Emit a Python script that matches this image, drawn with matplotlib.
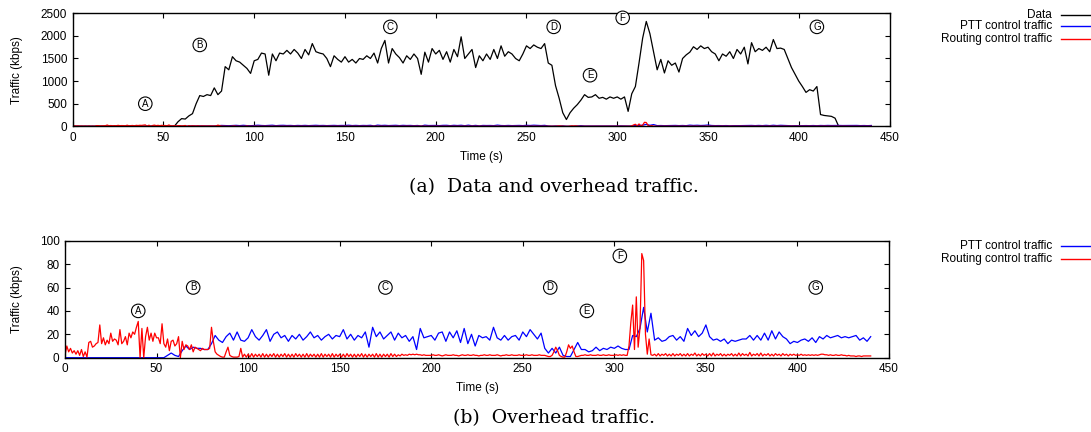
import numpy as np
import matplotlib
matplotlib.use("Agg")
import matplotlib.pyplot as plt

# ---- series (kbps) ----
# Data traffic, sampled every 2 s from t = 0
data_kbps = [
    0, 0, 0, 0, 0, 0, 0, 0, 0, 0,
    0, 0, 0, 0, 0, 0, 0, 0, 0, 0,
    0, 0, 0, 0, 0, 0, 0, 0, 0, 100,
    170, 160, 230, 280, 500, 680, 660, 700, 680, 850,
    700, 780, 1320, 1250, 1540, 1450, 1420, 1350, 1280, 1170,
    1450, 1480, 1620, 1600, 1130, 1600, 1450, 1620, 1600, 1680,
    1600, 1700, 1620, 1500, 1700, 1580, 1830, 1650, 1620, 1600,
    1500, 1320, 1560, 1480, 1420, 1540, 1420, 1480, 1400, 1500,
    1480, 1560, 1500, 1620, 1400, 1720, 1900, 1400, 1720, 1600,
    1520, 1400, 1560, 1480, 1600, 1500, 1150, 1640, 1420, 1720,
    1600, 1680, 1480, 1650, 1420, 1700, 1540, 1980, 1500, 1600,
    1700, 1300, 1560, 1450, 1600, 1480, 1700, 1500, 1780, 1550,
    1650, 1600, 1500, 1450, 1600, 1780, 1720, 1800, 1750, 1720,
    1830, 1400, 1350, 900, 620, 300, 150, 300, 400, 480,
    580, 700, 640, 650, 700, 620, 640, 600, 650, 620,
    650, 600, 650, 330, 720, 880, 1400, 1950, 2320, 2050,
    1650, 1250, 1480, 1180, 1450, 1350, 1400, 1200, 1500, 1580,
    1640, 1760, 1700, 1780, 1720, 1750, 1650, 1600, 1450, 1600,
    1550, 1650, 1500, 1700, 1600, 1750, 1380, 1850, 1650, 1720,
    1680, 1750, 1650, 1920, 1720, 1730, 1700, 1500, 1300, 1150,
    1000, 880, 750, 810, 780, 880, 260, 240, 230, 220,
    180, 0, 0, 0, 0, 0, 0, 0, 0, 0,
    0,
]

# PTT control traffic, sampled every 2 s from t = 0
ptt_kbps = [
    0, 0, 0, 0, 0, 0, 0, 0, 0, 0,
    0, 0, 0, 0, 0, 0, 0, 0, 0, 0,
    0, 0, 0, 0, 0, 0, 0, 0, 2, 4,
    2, 1, 6, 10, 7, 9, 8, 8, 7, 7,
    12, 19, 15, 13, 18, 21, 15, 22, 15, 14,
    17, 24, 18, 15, 19, 24, 14, 20, 22, 17,
    19, 14, 19, 16, 20, 15, 18, 22, 17, 19,
    15, 18, 20, 16, 19, 18, 24, 16, 20, 15,
    19, 17, 22, 9, 26, 18, 22, 16, 19, 22,
    15, 21, 17, 19, 14, 18, 7, 25, 17, 18,
    19, 15, 21, 22, 14, 22, 17, 23, 13, 25,
    12, 20, 10, 19, 17, 18, 15, 26, 17, 15,
    19, 15, 18, 19, 15, 22, 18, 24, 20, 16,
    21, 8, 4, 8, 4, 9, 2, 1, 1, 7,
    13, 7, 7, 5, 6, 9, 6, 8, 7, 9,
    8, 10, 8, 7, 7, 19, 18, 25, 43, 22,
    38, 15, 17, 14, 15, 18, 19, 15, 18, 14,
    25, 19, 23, 18, 21, 28, 18, 15, 16, 14,
    16, 12, 15, 14, 15, 16, 16, 19, 15, 19,
    15, 21, 15, 23, 16, 22, 18, 16, 12, 14,
    13, 15, 16, 14, 17, 13, 18, 16, 19, 17,
    18, 19, 17, 18, 17, 18, 19, 15, 17, 14,
    18,
]

# Routing control traffic, sampled every 1 s from t = 0
routing_kbps = [
    2, 10, 5, 8, 4, 6, 3, 6, 2, 7,
    1, 5, 0.5, 13, 14, 9, 10, 12, 13, 28,
    12, 17, 11, 15, 12, 21, 14, 16, 15, 11,
    24, 12, 14, 18, 11, 21, 17, 22, 20, 26,
    31, 0, 25, 0, 18, 26, 15, 21, 14, 21,
    17, 17, 12, 29, 12, 9, 16, 6, 14, 15,
    10, 12, 18, 0, 14, 7, 11, 10, 7, 11,
    5, 9, 8, 7, 6, 8, 7, 7, 7, 8,
    26, 14, 5, 3, 2, 1, 0.5, 0.5, 5, 9,
    2, 1, 0.5, 0.5, 0.5, 1, 8, 0.5, 3, 0.5,
    3, 0.5, 3.5, 0.5, 3, 1, 3, 0.5, 3.5, 0.5,
    3, 0.5, 3, 1, 3.5, 0.5, 3, 0.5, 3, 1,
    3.5, 0.5, 3, 0.5, 3, 0.5, 3.5, 1, 3, 0.5,
    3, 0.5, 3.5, 0.5, 3, 1, 3, 0.5, 3, 0.5,
    3.5, 0.5, 3, 1, 3, 0.5, 3.5, 0.5, 3, 1,
    3, 0.5, 3, 0.5, 3.5, 1, 3, 0.5, 3, 0.5,
    3, 1, 3.5, 0.5, 3, 0.5, 3, 1, 3, 0.5,
    3.5, 0.5, 3, 0.5, 3, 1, 3, 0.5, 3.5, 1,
    3, 1, 2.5, 1.5, 3, 2, 2.5, 2, 3, 2.5,
    3, 2.5, 3, 2.5, 2.5, 2, 2.5, 2, 2, 2,
    2, 2.5, 2, 2, 2.5, 2, 1.5, 2, 2.5, 2,
    2, 2, 2.5, 2, 2, 1.5, 2, 2.5, 2, 2,
    2.5, 2, 2, 2.5, 2, 2, 1.5, 2, 2, 2.5,
    2, 2, 2.5, 2, 2, 2, 2.5, 2, 1.5, 2,
    2, 2.5, 2, 2, 2.5, 2, 2, 2, 2.5, 2,
    2, 2, 2.5, 2, 2, 2.5, 2, 2, 2, 2.5,
    2, 2, 2, 1.5, 1, 1, 2, 5, 9, 6,
    2, 1, 0.5, 0.5, 5, 11, 8, 10, 5, 1,
    1, 1.5, 2, 2, 2.5, 2, 2, 2.5, 2, 2,
    2, 2.5, 2, 2, 2.5, 2, 2, 2.5, 2, 2,
    2, 2.5, 2, 2.5, 2, 2.5, 2, 2, 10, 30,
    45, 7, 52, 9, 25, 89, 83, 20, 3, 16,
    2.5, 2, 3, 1.5, 3.5, 1.5, 3, 2, 3.5, 1.5,
    3, 1.5, 3.5, 1.5, 3, 2, 3.5, 1.5, 3, 1.5,
    3.5, 1.5, 3, 2, 4, 1.5, 3, 1.5, 3.5, 2,
    3, 1.5, 3.5, 1.5, 4, 1.5, 3, 2, 3.5, 1.5,
    3, 1.5, 3, 2, 3.5, 1.5, 3, 1.5, 4, 1.5,
    3.5, 2, 3, 1.5, 4.5, 1.5, 3, 2, 3.5, 1.5,
    4, 1.5, 3, 2, 3.5, 1.5, 3, 1.5, 3.5, 2,
    3, 1.5, 3.5, 2, 3, 1.5, 3, 2, 3, 2,
    2.5, 2, 3, 2, 2.5, 2, 2.5, 2, 2.5, 2,
    2.5, 2, 2.5, 3, 3, 2.5, 2.5, 2, 2.5, 2,
    2, 2.5, 2, 2, 2.5, 2, 2, 1.5, 2, 1.5,
    1.5, 1.5, 1, 1.5, 1.5, 1, 1.5, 1.5, 1.5, 1.5,
    1.5,
]

# Phase markers: label, time (s), height in each panel
phase_labels = ["A", "B", "C", "D", "E", "F", "G"]
phase_time = [40, 70, 175, 265, 285, 303, 410]
phase_y_top = [500, 1800, 2200, 2200, 1130, 2400, 2200]
phase_y_bottom = [40, 60, 60, 60, 40, 87, 60]

series_names = ["Data", "PTT control traffic", "Routing control traffic"]
series_colors = ["black", "#0000ff", "#ff0000"]

t_data = 2 * np.arange(len(data_kbps))
t_ptt = 2 * np.arange(len(ptt_kbps))
t_rout = np.arange(len(routing_kbps))

plt.rcParams["font.family"] = ["Liberation Sans", "DejaVu Sans"]
FS = 8.5
plt.rcParams["font.size"] = FS

W, H = 1091, 432
fig = plt.figure(figsize=(W / 100, H / 100), dpi=100)


def px_axes(left, top, right, bottom):
    return fig.add_axes([left / W, 1 - bottom / H, (right - left) / W, (bottom - top) / H])


def style(ax, ymax, ystep, left, bottom, width, height):
    ax.set_xlim(0, 450)
    ax.set_ylim(0, ymax)
    ax.set_xticks(np.arange(0, 451, 50))
    ax.set_yticks(np.arange(0, ymax + 1, ystep))
    ax.tick_params(direction="in", length=3.5, width=0.8, top=True, right=True,
                   labelsize=FS, pad=4)
    for s in ax.spines.values():
        s.set_linewidth(1.0)
    ax.set_xlabel("Time (s)", fontsize=FS, va="center")
    ax.set_ylabel("Traffic (kbps)", fontsize=FS, va="center")
    ax.xaxis.set_label_coords(0.5, -30.5 / height)
    ax.yaxis.set_label_coords((17 - left) / width, 0.5)


def circled(ax, xs, ys):
    for lab, x, y in zip(phase_labels, xs, ys):
        ax.text(x, y, lab, fontsize=7, ha="center", va="center",
                bbox=dict(boxstyle="circle,pad=0.18", fc="white", ec="black", lw=0.8))


# (a) Data and overhead traffic
ax1 = px_axes(72.7, 13.3, 889.5, 126.3)
ax1.plot(t_data, data_kbps, color=series_colors[0], lw=0.9)
ax1.plot(t_ptt, ptt_kbps, color=series_colors[1], lw=0.9)
ax1.plot(t_rout, routing_kbps, color=series_colors[2], lw=0.9)
style(ax1, 2500, 500, 72.7, 126.3, 889.5 - 72.7, 113)
circled(ax1, phase_time, phase_y_top)

# (b) Overhead traffic
ax2 = px_axes(65, 240.7, 889, 357.7)
ax2.plot(t_ptt, ptt_kbps, color=series_colors[1], lw=0.9)
ax2.plot(t_rout, routing_kbps, color=series_colors[2], lw=0.9)
style(ax2, 100, 20, 65, 357.7, 889 - 65, 117)
circled(ax2, phase_time, phase_y_bottom)


# Keys placed to the right of each panel, text right-aligned before the line sample
def key(rows_y, names, colors):
    for y, name, c in zip(rows_y, names, colors):
        fig.text(1052 / W, 1 - y / H, name, ha="right", va="center", fontsize=FS)
        fig.add_artist(plt.Line2D([1061 / W, 1091 / W], [1 - y / H, 1 - y / H],
                                  color=c, lw=1.0, transform=fig.transFigure))


key([14.7, 26.3, 38.7], series_names, series_colors)
key([246.3, 258.7], series_names[1:], series_colors[1:])

fig.text(554 / W, 1 - 187 / H, "(a)  Data and overhead traffic.", ha="center", va="center",
         fontsize=13.6, family="DejaVu Serif")
fig.text(554 / W, 1 - 418 / H, "(b)  Overhead traffic.", ha="center", va="center",
         fontsize=13.6, family="DejaVu Serif")

fig.savefig("out.png", dpi=100)
